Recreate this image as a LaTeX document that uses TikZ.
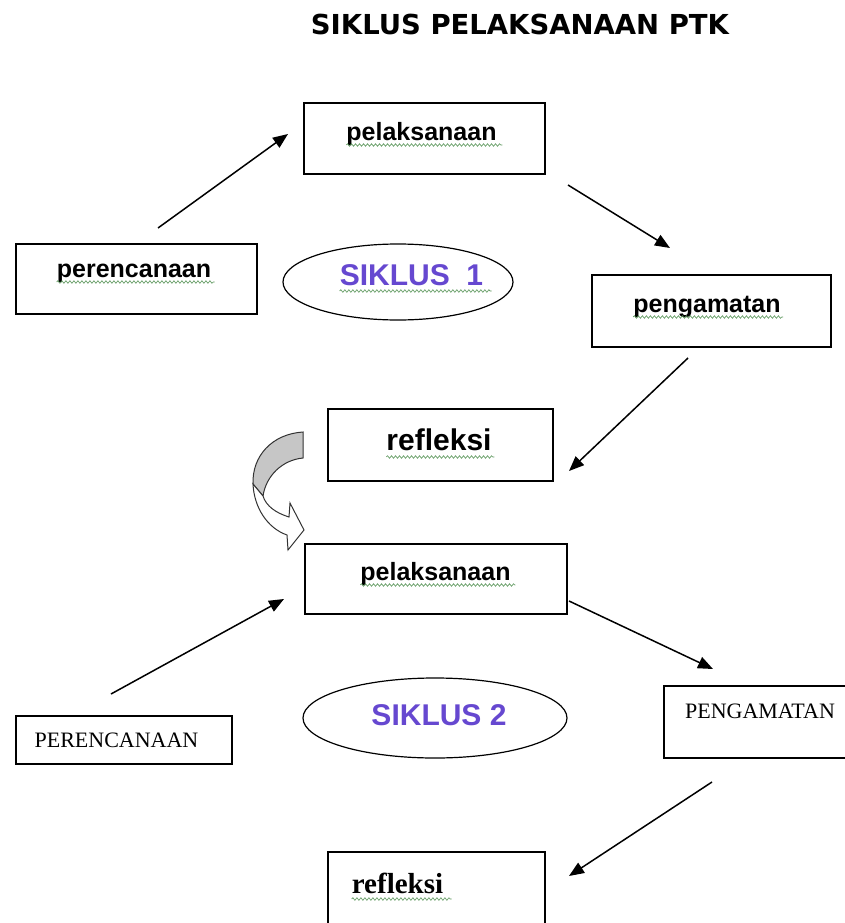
\documentclass[tikz,border=0pt]{standalone}
\usepackage{fontspec}
\setmainfont{Liberation Serif}
\newfontfamily\arialf{Liberation Sans}
\newfontfamily\titlef{DejaVu Sans}
\usetikzlibrary{arrows.meta,decorations.pathmorphing,shapes.geometric}
\definecolor{siklus}{RGB}{102,72,208}
\definecolor{squig}{RGB}{90,150,90}
\begin{document}
\begin{tikzpicture}[x=1pt,y=-1pt,
  box/.style={draw, line width=1.4pt, inner sep=0pt},
  ell/.style={ellipse, draw, line width=1.2pt, inner sep=0pt},
  arr/.style={line width=1.5pt, -{Triangle[length=15pt,width=12pt]}},
  sq/.style={draw=squig, line width=0.6pt, decorate, decoration={snake, amplitude=1.3pt, segment length=4pt}},
  lab/.style={font=\arialf\bfseries\fontsize{25}{25}\selectfont, inner sep=0pt, anchor=base},
  big/.style={font=\arialf\bfseries\fontsize{30}{30}\selectfont, inner sep=0pt, anchor=base},
  cyc/.style={font=\arialf\bfseries\fontsize{30}{30}\selectfont, text=siklus, inner sep=0pt, anchor=base},
  tms/.style={font=\fontsize{22}{22}\selectfont, inner sep=0pt, anchor=base},
  tmsb/.style={font=\bfseries\fontsize{29}{29}\selectfont, inner sep=0pt, anchor=base}
]
\useasboundingbox (0,0) rectangle (845,923);
\fill[white] (0,0) rectangle (845,923);

% title
\node[font=\titlef\bfseries\fontsize{27.5}{27.5}\selectfont, inner sep=0pt, anchor=base] (title) at (520,35) {SIKLUS PELAKSANAAN PTK};

% ---------- cycle 1 ----------
\node[box, minimum width=241, minimum height=71] (b1) at (424.5,138.5) {};
\node[box, minimum width=241, minimum height=70] (b2) at (136.5,279) {};
\node[box, minimum width=239, minimum height=72] (b3) at (711.5,311) {};
\node[box, minimum width=225, minimum height=72] (b4) at (440.5,445) {};
\node[ell, minimum width=230, minimum height=76] (e1) at (398,282) {};

\node[lab] (t1) at (421.5,140) {pelaksanaan};
\node[lab] (t2) at (134,277) {perencanaan};
\node[lab] (t3) at (707,312) {pengamatan};
\node[big] (t4) at (439,450) {refleksi};
\node[cyc] (t5) at (411.5,285) {SIKLUS\ \ 1};

\draw[sq] (t1.base west) ++(0,5) -- ++(156,0);
\draw[sq] (t2.base west) ++(0,5) -- ++(158,0);
\draw[sq] (t3.base west) ++(0,5) -- ++(150,0);
\draw[sq] (t4.base west) ++(0,7) -- ++(108,0);
\draw[sq] (t5.base west) ++(0,6) -- ++(152,0);

\coordinate (a1s) at (158,228); \coordinate (a1e) at (288,134);
\coordinate (a2s) at (568,185); \coordinate (a2e) at (670,248);
\coordinate (a3s) at (688,358); \coordinate (a3e) at (569,471);
\draw[arr] (a1s) -- (a1e);
\draw[arr] (a2s) -- (a2e);
\draw[arr] (a3s) -- (a3e);

% curved transition arrow
\filldraw[fill=gray!45, draw=black!80, line width=1pt]
  (303,432) .. controls (272,434) and (252,456) .. (253,484)
  -- (263,496) .. controls (266,476) and (282,460) .. (303,458) -- cycle;
\filldraw[fill=white, draw=black!80, line width=1pt]
  (253,484) .. controls (254,507) and (267,528) .. (287,535)
  -- (288,550) -- (304,530) -- (290,503) -- (289,517)
  .. controls (276,513) and (266,506) .. (263,496) -- cycle;

% ---------- cycle 2 ----------
\node[box, minimum width=262, minimum height=70] (b5) at (436,579) {};
\node[box, minimum width=216, minimum height=48] (b6) at (124,740) {};
\node[box, minimum width=196, minimum height=72] (b7) at (762,722) {};
\node[box, minimum width=217, minimum height=83] (b8) at (436.5,893.5) {};
\node[ell, minimum width=264, minimum height=80] (e2) at (435,718) {};

\node[lab] (t6) at (435.5,580) {pelaksanaan};
\node[tms] (t7) at (116.5,747) {PERENCANAAN};
\node[tms] (t8) at (760,718) {PENGAMATAN};
\node[tmsb] (t9) at (397.5,893) {refleksi};
\node[cyc] (t10) at (439,725) {SIKLUS 2};

\draw[sq] (t6.base west) ++(0,5) -- ++(155,0);
\draw[sq] (t9.base west) ++(0,6) -- ++(100,0);

\coordinate (a4s) at (111,694); \coordinate (a4e) at (284,599);
\coordinate (a5s) at (569,601); \coordinate (a5e) at (713,669);
\coordinate (a6s) at (712,782); \coordinate (a6e) at (569,876);
\draw[arr] (a4s) -- (a4e);
\draw[arr] (a5s) -- (a5e);
\draw[arr] (a6s) -- (a6e);
\end{tikzpicture}
\end{document}
